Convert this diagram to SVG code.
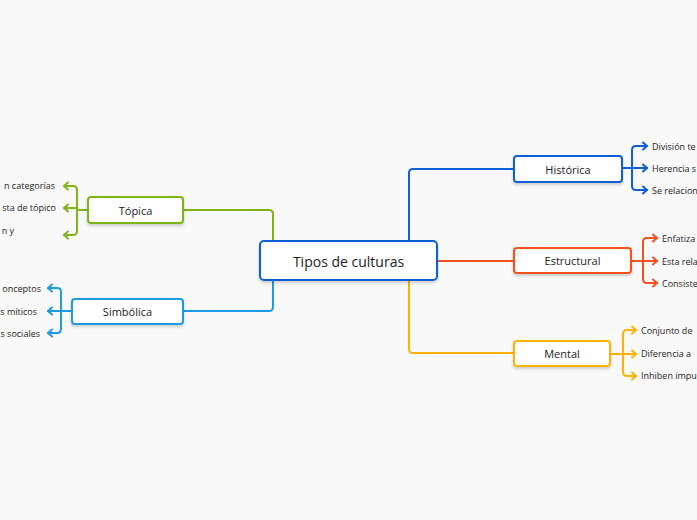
<svg xmlns="http://www.w3.org/2000/svg" width="697" height="520" viewBox="0 0 697 520">
<style>
.bg{fill:#f9f9f9}
.node{fill:#ffffff;stroke-width:2}
.lbl{font-family:"Open Sans","Liberation Sans",sans-serif;fill:#222;text-anchor:middle;dominant-baseline:central}
.sub{font-family:"Open Sans","Liberation Sans",sans-serif;fill:#222;font-size:9px;dominant-baseline:central}
.ln{fill:none;stroke-width:2;stroke-linecap:round;stroke-linejoin:round}
.g{stroke:#7cb518}.b{stroke:#1a9be3}.d{stroke:#0c5fd6}.o{stroke:#f4511e}.y{stroke:#ffb300}
.ah{fill:none;stroke-width:2;stroke-linecap:round;stroke-linejoin:round}
</style>
<defs>
<filter id="sh" x="-20%" y="-30%" width="140%" height="170%">
<feDropShadow dx="0" dy="2" stdDeviation="1.5" flood-color="#000" flood-opacity="0.18"/>
</filter>
<marker id="mg" viewBox="0 0 10 10" refX="8" refY="5" markerWidth="10" markerHeight="10" orient="auto" markerUnits="userSpaceOnUse"><path class="ah" d="M4,1.5 L8,5 L4,8.5" stroke="#7cb518"/></marker>
<marker id="mb" viewBox="0 0 10 10" refX="8" refY="5" markerWidth="10" markerHeight="10" orient="auto" markerUnits="userSpaceOnUse"><path class="ah" d="M4,1.5 L8,5 L4,8.5" stroke="#1a9be3"/></marker>
<marker id="md" viewBox="0 0 10 10" refX="8" refY="5" markerWidth="10" markerHeight="10" orient="auto" markerUnits="userSpaceOnUse"><path class="ah" d="M4,1.5 L8,5 L4,8.5" stroke="#0c5fd6"/></marker>
<marker id="mo" viewBox="0 0 10 10" refX="8" refY="5" markerWidth="10" markerHeight="10" orient="auto" markerUnits="userSpaceOnUse"><path class="ah" d="M4,1.5 L8,5 L4,8.5" stroke="#f4511e"/></marker>
<marker id="my" viewBox="0 0 10 10" refX="8" refY="5" markerWidth="10" markerHeight="10" orient="auto" markerUnits="userSpaceOnUse"><path class="ah" d="M4,1.5 L8,5 L4,8.5" stroke="#ffb300"/></marker>
</defs>
<rect class="bg" x="0" y="0" width="697" height="520"/>
<g id="connectors">
<path class="ln g" d="M273,241 V214 Q273,210 269,210 H183"/>
<path class="ln b" d="M273,280 V307 Q273,311 269,311 H183"/>
<path class="ln d" d="M409,241 V173 Q409,169 413,169 H514"/>
<path class="ln o" d="M437,261 H514"/>
<path class="ln y" d="M409,280 V349 Q409,353 413,353 H514"/>
<path class="ln g" d="M88,210 H77"/>
<path class="ln g" d="M77,210 V190 Q77,186 73,186 H64" marker-end="url(#mg)"/>
<path class="ln g" d="M77,208 H64" marker-end="url(#mg)"/>
<path class="ln g" d="M77,210 V231 Q77,235 73,235 H64" marker-end="url(#mg)"/>
<path class="ln b" d="M72,311 H61"/>
<path class="ln b" d="M61,311 V292 Q61,288 57,288 H48" marker-end="url(#mb)"/>
<path class="ln b" d="M61,311 H48" marker-end="url(#mb)"/>
<path class="ln b" d="M61,311 V329 Q61,333 57,333 H48" marker-end="url(#mb)"/>
<path class="ln d" d="M622,168 H632"/>
<path class="ln d" d="M632,168 V150 Q632,146 636,146 H647" marker-end="url(#md)"/>
<path class="ln d" d="M632,168 H647" marker-end="url(#md)"/>
<path class="ln d" d="M632,168 V186 Q632,190 636,190 H647" marker-end="url(#md)"/>
<path class="ln o" d="M631,261 H643"/>
<path class="ln o" d="M643,261 V242 Q643,238 647,238 H657" marker-end="url(#mo)"/>
<path class="ln o" d="M643,261 H657" marker-end="url(#mo)"/>
<path class="ln o" d="M643,261 V279 Q643,283 647,283 H657" marker-end="url(#mo)"/>
<path class="ln y" d="M610,354 H623"/>
<path class="ln y" d="M623,354 V334 Q623,330 627,330 H636" marker-end="url(#my)"/>
<path class="ln y" d="M623,354 H636" marker-end="url(#my)"/>
<path class="ln y" d="M623,354 V372 Q623,376 627,376 H636" marker-end="url(#my)"/>
</g>
<g id="center">
<rect class="node" x="260" y="241" width="177" height="39" rx="4" stroke="#0c5fd6" filter="url(#sh)"/>
<text class="lbl" x="348.5" y="261" font-size="14">Tipos de culturas</text>
</g>
<g id="topica">
<rect class="node" x="88" y="197" width="95" height="26" rx="3" stroke="#7cb518" filter="url(#sh)"/>
<text class="lbl" x="135.5" y="210" font-size="11">Tópica</text>
</g>
<g id="simbolica">
<rect class="node" x="72" y="299" width="111" height="25" rx="3" stroke="#1a9be3" filter="url(#sh)"/>
<text class="lbl" x="127.5" y="311.5" font-size="11">Simbólica</text>
</g>
<g id="historica">
<rect class="node" x="514" y="156" width="108" height="26" rx="3" stroke="#0c5fd6" filter="url(#sh)"/>
<text class="lbl" x="568" y="169" font-size="11">Histórica</text>
</g>
<g id="estructural">
<rect class="node" x="514" y="248" width="117" height="25" rx="3" stroke="#f4511e" filter="url(#sh)"/>
<text class="lbl" x="572.5" y="260.5" font-size="11">Estructural</text>
</g>
<g id="mental">
<rect class="node" x="514" y="341" width="96" height="25" rx="3" stroke="#ffb300" filter="url(#sh)"/>
<text class="lbl" x="562" y="353.5" font-size="11">Mental</text>
</g>
<g id="topica-children">
<text class="sub" x="55" y="185" text-anchor="end">n categorías</text>
<text class="sub" x="56" y="207" text-anchor="end">sta de tópico</text>
<text class="sub" x="14" y="230" text-anchor="end">n y</text>
</g>
<g id="simbolica-children">
<text class="sub" x="41" y="288" text-anchor="end">onceptos</text>
<text class="sub" x="37" y="311" text-anchor="end">s míticos</text>
<text class="sub" x="40" y="333" text-anchor="end">s sociales</text>
</g>
<g id="historica-children">
<text class="sub" x="652" y="146">División te</text>
<text class="sub" x="652" y="168">Herencia s</text>
<text class="sub" x="652" y="190">Se relacion</text>
</g>
<g id="estructural-children">
<text class="sub" x="662" y="238">Enfatiza</text>
<text class="sub" x="662" y="261">Esta rela</text>
<text class="sub" x="662" y="283">Consiste</text>
</g>
<g id="mental-children">
<text class="sub" x="641" y="330">Conjunto de</text>
<text class="sub" x="641" y="353">Diferencia a</text>
<text class="sub" x="641" y="375">Inhiben impu</text>
</g>
</svg>
